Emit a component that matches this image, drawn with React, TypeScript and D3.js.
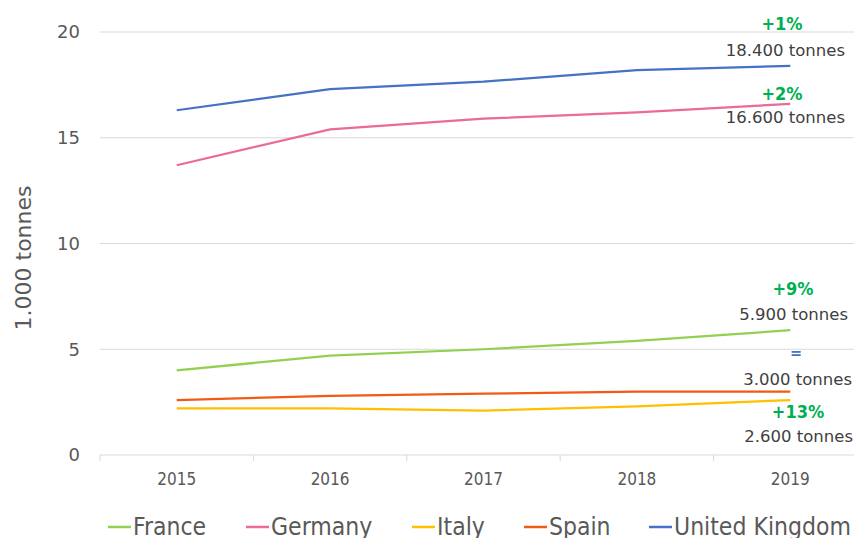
import React from "react";
import * as d3 from "d3";

const years = ["2015", "2016", "2017", "2018", "2019"];
const seriesNames = ["France", "Germany", "Italy", "Spain", "United Kingdom"];
const seriesColors = ["#92d050", "#ea6a9a", "#ffc000", "#f05a14", "#4472c4"];
const france = [4.0, 4.7, 5.0, 5.4, 5.9];
const germany = [13.7, 15.4, 15.9, 16.2, 16.6];
const italy = [2.2, 2.2, 2.1, 2.3, 2.6];
const spain = [2.6, 2.8, 2.9, 3.0, 3.0];
const uk = [16.3, 17.3, 17.65, 18.2, 18.4];
const yTicks = [0, 5, 10, 15, 20];
const changeLabels = ["+9%", "+2%", "+13%", "=", "+1%"];
const totalLabels = ["5.900 tonnes", "16.600 tonnes", "2.600 tonnes", "3.000 tonnes", "18.400 tonnes"];

const W = 854;
const H = 538;
const FONT = "'DejaVu Sans', sans-serif";
const FONT_C = "'DejaVu Sans Condensed', 'DejaVu Sans', sans-serif";

export default function App() {
  const data = [france, germany, italy, spain, uk];
  const x = d3.scaleBand().domain(years).range([100, 867]);
  const y = d3.scaleLinear().domain([0, 20]).range([455, 32]);
  const line = d3
    .line<number>()
    .x((_, i) => (x(years[i]) as number) + x.bandwidth() / 2)
    .y((d) => y(d));

  // label positions (offset relative to last value)
  const changeX = [793, 782, 798, 796, 782];
  const changeDy = [-35, -4, 18, -34, -36];
  const totalX = [848, 845, 853, 852, 845];
  const totalDy = [-10, 19, 42, -6.5, -10];
  const legendStarts = [108, 246, 412, 524, 649];

  return (
    <svg width={W} height={H} style={{ position: "absolute", left: 0, top: 0 }}>
      <rect width={W} height={H} fill="#fff" />
      {yTicks.map((t) => (
        <g key={t}>
          <line x1={100} x2={W} y1={y(t)} y2={y(t)} stroke="#d9d9d9" strokeWidth={1} />
          <text
            x={80}
            y={y(t)}
            dy="0.35em"
            textAnchor="end"
            fontFamily={FONT}
            fontSize={18}
            fill="#595959"
          >
            {t}
          </text>
        </g>
      ))}
      {years.map((yr) => (
        <g key={yr}>
          <line
            x1={x(yr) as number}
            x2={x(yr) as number}
            y1={y(0)}
            y2={y(0) + 6}
            stroke="#d9d9d9"
          />
          <text
            x={(x(yr) as number) + x.bandwidth() / 2}
            y={485}
            textAnchor="middle"
            fontFamily={FONT_C}
            fontSize={17}
            fill="#595959"
          >
            {yr}
          </text>
        </g>
      ))}
      <text
        transform={`translate(31,258) rotate(-90)`}
        textAnchor="middle"
        fontFamily={FONT}
        fontSize={22}
        fill="#595959"
      >
        1.000 tonnes
      </text>
      {data.map((vals, i) => (
        <path
          key={seriesNames[i]}
          d={line(vals) as string}
          fill="none"
          stroke={seriesColors[i]}
          strokeWidth={2.25}
        />
      ))}
      {data.map((vals, i) => {
        const ly = y(vals[4]);
        const isEq = changeLabels[i] === "=";
        return (
          <g key={"lab" + i}>
            <text
              x={changeX[i]}
              y={ly + changeDy[i]}
              textAnchor="middle"
              fontFamily={FONT_C}
              fontSize={isEq ? 16 : 18}
              fontWeight="bold"
              fill={isEq ? "#4472c4" : "#00b050"}
            >
              {changeLabels[i]}
            </text>
            <text
              x={totalX[i]}
              y={ly + totalDy[i]}
              textAnchor="end"
              fontFamily={FONT}
              fontSize={16.5}
              fill="#404040"
            >
              {totalLabels[i]}
            </text>
          </g>
        );
      })}
      {seriesNames.map((n, i) => (
        <g key={"lg" + n}>
          <line
            x1={legendStarts[i]}
            x2={legendStarts[i] + 23}
            y1={527}
            y2={527}
            stroke={seriesColors[i]}
            strokeWidth={2.5}
          />
          <text
            x={legendStarts[i] + 25}
            y={535}
            fontFamily={FONT_C}
            fontSize={24.5}
            fill="#595959"
          >
            {n}
          </text>
        </g>
      ))}
    </svg>
  );
}
